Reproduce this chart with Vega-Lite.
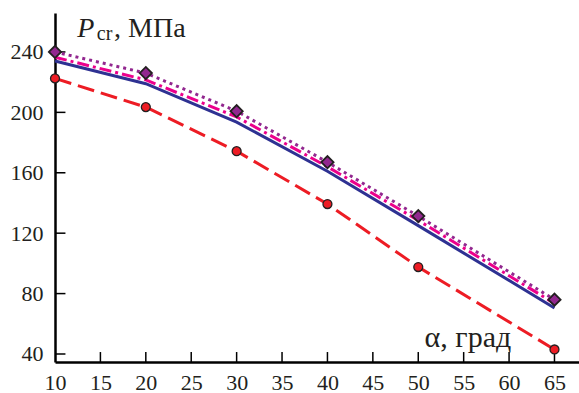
{
  "$schema": "https://vega.github.io/schema/vega-lite/v6.json",
  "width": 524,
  "height": 349,
  "autosize": {"type": "none"},
  "padding": {"left": 55, "top": 13, "right": 0, "bottom": 31},
  "background": "white",
  "config": {"view": {"stroke": null}, "font": "Liberation Serif", "axis": {"labelFont": "Liberation Serif", "labelFontSize": 22, "labelColor": "#231f20"}},
  "datasets": {
    "curves": [
      {"alpha": 10, "P": 222.5, "series": "red"},
      {"alpha": 20, "P": 203.5, "series": "red"},
      {"alpha": 30, "P": 174.3, "series": "red"},
      {"alpha": 40, "P": 139.3, "series": "red"},
      {"alpha": 50, "P": 97.6, "series": "red"},
      {"alpha": 65, "P": 43.0, "series": "red"},
      {"alpha": 10, "P": 234, "series": "blue"},
      {"alpha": 20, "P": 219, "series": "blue"},
      {"alpha": 30, "P": 193.5, "series": "blue"},
      {"alpha": 40, "P": 161, "series": "blue"},
      {"alpha": 50, "P": 125, "series": "blue"},
      {"alpha": 65, "P": 70.5, "series": "blue"},
      {"alpha": 10, "P": 236.5, "series": "pink"},
      {"alpha": 20, "P": 221.5, "series": "pink"},
      {"alpha": 30, "P": 197, "series": "pink"},
      {"alpha": 40, "P": 164, "series": "pink"},
      {"alpha": 50, "P": 128.5, "series": "pink"},
      {"alpha": 65, "P": 73.5, "series": "pink"},
      {"alpha": 10, "P": 240, "series": "purple"},
      {"alpha": 20, "P": 226, "series": "purple"},
      {"alpha": 30, "P": 200.8, "series": "purple"},
      {"alpha": 40, "P": 167, "series": "purple"},
      {"alpha": 50, "P": 131.3, "series": "purple"},
      {"alpha": 65, "P": 76, "series": "purple"}
    ],
    "xticks": [{"alpha": 15}, {"alpha": 20}, {"alpha": 25}, {"alpha": 30}, {"alpha": 35}, {"alpha": 40}, {"alpha": 45}, {"alpha": 50}, {"alpha": 55}, {"alpha": 60}, {"alpha": 65}],
    "yticks": [{"P": 40}, {"P": 80}, {"P": 120}, {"P": 160}, {"P": 200}, {"P": 240}],
    "labels": [
      {"alpha": 13.4, "P": 249.9, "t": "P"},
      {"alpha": 14.6, "P": 247.9, "t": "cr"},
      {"alpha": 16.5, "P": 249.9, "t": ", МПа"},
      {"alpha": 50.7, "P": 44.6, "t": "α, град"}
    ]
  },
  "layer": [
    {
      "data": {"name": "curves"},
      "transform": [{"filter": "datum.series === 'blue'"}],
      "mark": {"type": "line", "color": "#2e3192", "strokeWidth": 3},
      "encoding": {
        "x": {"field": "alpha", "type": "quantitative", "scale": {"domain": [10, 67.7], "nice": false, "zero": false},
          "axis": {"title": null, "values": [10, 15, 20, 25, 30, 35, 40, 45, 50, 55, 60, 65], "grid": false, "domainColor": "black", "domainWidth": 2.5, "ticks": false, "labelPadding": 10, "labelFontSize": 22, "labelColor": "#231f20", "labelFont": "Liberation Serif", "labelFlush": false, "labelOverlap": false}},
        "y": {"field": "P", "type": "quantitative", "scale": {"domain": [34.7, 265.8], "nice": false, "zero": false},
          "axis": {"title": null, "values": [40, 80, 120, 160, 200, 240], "grid": false, "domainColor": "black", "domainWidth": 2.5, "ticks": false, "labelPadding": 12, "labelFontSize": 22, "labelColor": "#231f20", "labelFont": "Liberation Serif", "labelOverlap": false}}
      }
    },
    {
      "data": {"name": "xticks"},
      "mark": {"type": "rule", "color": "black", "strokeWidth": 1.5},
      "encoding": {"x": {"field": "alpha", "type": "quantitative"}, "y": {"datum": 34.7, "type": "quantitative"}, "y2": {"datum": 41.3}}
    },
    {
      "data": {"name": "yticks"},
      "mark": {"type": "rule", "color": "black", "strokeWidth": 1.5},
      "encoding": {"y": {"field": "P", "type": "quantitative"}, "x": {"datum": 10, "type": "quantitative"}, "x2": {"datum": 11.15}}
    },
    {
      "data": {"name": "curves"},
      "transform": [{"filter": "datum.series === 'pink'"}],
      "mark": {"type": "line", "color": "#ec008c", "strokeWidth": 3, "strokeDash": [12, 4, 3, 4]},
      "encoding": {"x": {"field": "alpha", "type": "quantitative"}, "y": {"field": "P", "type": "quantitative"}}
    },
    {
      "data": {"name": "curves"},
      "transform": [{"filter": "datum.series === 'purple'"}],
      "mark": {"type": "line", "color": "#92278f", "strokeWidth": 3, "strokeDash": [3, 4]},
      "encoding": {"x": {"field": "alpha", "type": "quantitative"}, "y": {"field": "P", "type": "quantitative"}}
    },
    {
      "data": {"name": "curves"},
      "transform": [{"filter": "datum.series === 'red'"}],
      "mark": {"type": "line", "color": "#ed1c24", "strokeWidth": 3, "strokeDash": [17, 7]},
      "encoding": {"x": {"field": "alpha", "type": "quantitative"}, "y": {"field": "P", "type": "quantitative"}}
    },
    {
      "data": {"name": "curves"},
      "transform": [{"filter": "datum.series === 'purple'"}],
      "mark": {"type": "point", "shape": "diamond", "filled": true, "color": "#92278f", "stroke": "#231f20", "strokeWidth": 1.8, "size": 150, "opacity": 1},
      "encoding": {"x": {"field": "alpha", "type": "quantitative"}, "y": {"field": "P", "type": "quantitative"}}
    },
    {
      "data": {"name": "curves"},
      "transform": [{"filter": "datum.series === 'red'"}],
      "mark": {"type": "point", "shape": "circle", "filled": true, "color": "#ed1c24", "stroke": "#231f20", "strokeWidth": 1.3, "size": 80, "opacity": 1},
      "encoding": {"x": {"field": "alpha", "type": "quantitative"}, "y": {"field": "P", "type": "quantitative"}}
    },
    {
      "data": {"name": "labels"},
      "transform": [{"filter": "datum.t === 'P'"}],
      "mark": {"type": "text", "font": "Liberation Serif", "fontStyle": "italic", "fontSize": 28, "color": "#231f20", "align": "center", "baseline": "alphabetic"},
      "encoding": {"x": {"field": "alpha", "type": "quantitative"}, "y": {"field": "P", "type": "quantitative"}, "text": {"field": "t"}}
    },
    {
      "data": {"name": "labels"},
      "transform": [{"filter": "datum.t === 'cr'"}],
      "mark": {"type": "text", "font": "Liberation Serif", "fontSize": 20, "color": "#231f20", "align": "left", "baseline": "alphabetic"},
      "encoding": {"x": {"field": "alpha", "type": "quantitative"}, "y": {"field": "P", "type": "quantitative"}, "text": {"field": "t"}}
    },
    {
      "data": {"name": "labels"},
      "transform": [{"filter": "datum.t === ', МПа'"}],
      "mark": {"type": "text", "font": "Liberation Serif", "fontSize": 28, "color": "#231f20", "align": "left", "baseline": "alphabetic"},
      "encoding": {"x": {"field": "alpha", "type": "quantitative"}, "y": {"field": "P", "type": "quantitative"}, "text": {"field": "t"}}
    },
    {
      "data": {"name": "labels"},
      "transform": [{"filter": "datum.t === 'α, град'"}],
      "mark": {"type": "text", "font": "Liberation Serif", "fontSize": 30, "color": "#231f20", "align": "left", "baseline": "alphabetic"},
      "encoding": {"x": {"field": "alpha", "type": "quantitative"}, "y": {"field": "P", "type": "quantitative"}, "text": {"field": "t"}}
    }
  ]
}
